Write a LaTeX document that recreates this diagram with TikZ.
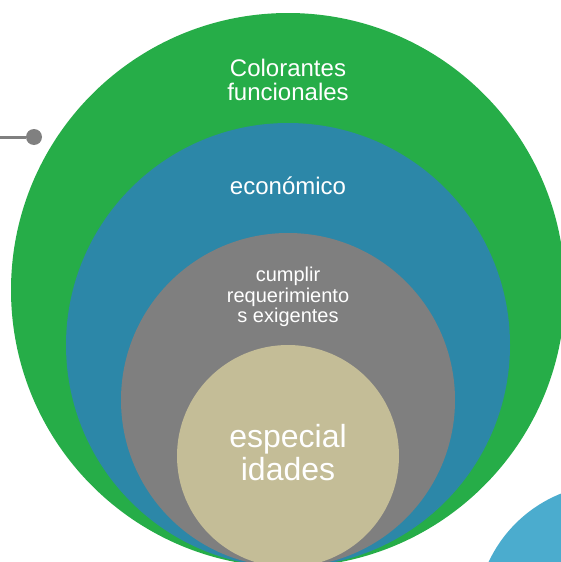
\documentclass[tikz,border=0pt]{standalone}
\usepackage{fontspec}
\setmainfont{Liberation Sans}
\definecolor{ringgreen}{HTML}{26AD48}
\definecolor{ringblue}{HTML}{2C87A8}
\definecolor{ringgray}{HTML}{7F7F7F}
\definecolor{ringtan}{HTML}{C4BD97}
\definecolor{aquablob}{HTML}{4BACCE}
\definecolor{pingray}{HTML}{808080}

\begin{document}
\begin{tikzpicture}[x=1pt,y=-1pt,
	ringtext/.style={text=white, align=center, inner sep=0pt, anchor=base},
	pin dot/.style={circle, fill=pingray, inner sep=0pt, minimum size=16pt}]
		\useasboundingbox (0,0) rectangle (561,562);
		\clip (0,0) rectangle (561,562);

		\fill[aquablob] (611,619) circle (135pt);

		\fill[ringgreen] (288,290) circle (277pt);
		\fill[ringblue] (288,345) circle (222pt);
		\fill[ringgray] (288,400) circle (167pt);
		\fill[ringtan] (288,456) circle (111pt);

		% base anchor sits on the last line
		\node[ringtext, font=\fontsize{24}{23.5}\selectfont] (colorantes) at (288,100) {Colorantes\\funcionales};
		\node[ringtext, font=\fontsize{24}{24}\selectfont] (economico) at (288,194) {económico};
		\node[ringtext, font=\fontsize{20}{20.5}\selectfont] (cumplir) at (288,322.7) {cumplir\\requerimiento\\s exigentes};
		\node[ringtext, font=\fontsize{32}{33}\selectfont] (especial) at (288,480) {especial\\idades};

		\node[pin dot] (dot) at (34,137) {};
		\coordinate (pinstart) at (0,137);
		\draw[pingray, line width=3pt] (pinstart) -- (dot);
	\end{tikzpicture}
\end{document}
